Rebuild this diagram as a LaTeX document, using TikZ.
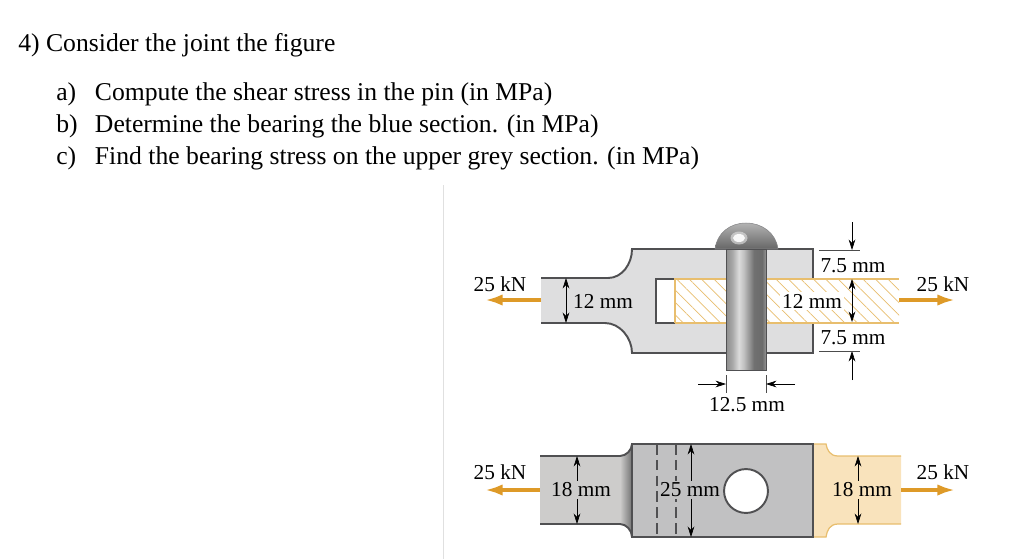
\documentclass[tikz,border=0pt]{standalone}
\usepackage{fontspec}
\setmainfont{Liberation Serif}
\usetikzlibrary{arrows.meta, patterns.meta, shapes.geometric}
\definecolor{PlateGray}{RGB}{222, 222, 223}
\definecolor{TopGray}{RGB}{193, 193, 194}
\definecolor{TabGray}{RGB}{205, 204, 203}
\definecolor{EdgeGray}{RGB}{80, 80, 82}
\definecolor{LoadOrange}{RGB}{222, 154, 40}
\definecolor{HatchOrange}{RGB}{232, 190, 110}
\definecolor{TabOrange}{RGB}{249, 227, 188}
\pgfdeclarehorizontalshading{pinshade}{100bp}{
    rgb(0bp)=(.55,.55,.55); rgb(25bp)=(.55,.55,.55); rgb(33bp)=(.66,.66,.66); rgb(41bp)=(.86,.86,.86); rgb(47bp)=(.76,.76,.76);
    rgb(60bp)=(.44,.44,.44); rgb(70bp)=(.42,.42,.42); rgb(75bp)=(.58,.58,.58); rgb(100bp)=(.58,.58,.58)}
\newcommand{\partlabel}[1]{\makebox[22pt][l]{#1}}
\tikzset{
    line/.style={font=\fontsize{14.6}{17}\selectfont, anchor=base west, inner sep=0pt},
    label/.style={font=\fontsize{12.1}{14}\selectfont, inner sep=0pt},
    plate/.style={draw=EdgeGray, line width=1.1pt},
    dim/.style={-{Stealth[length=6pt,width=3.8pt]}, line width=.35pt},
    dimboth/.style={{Stealth[length=6pt,width=3.8pt]}-{Stealth[length=6pt,width=3.8pt]}, line width=.35pt},
    tick/.style={line width=.25pt, draw=black!70},
    load/.style={-{Latex[length=10pt,width=6.5pt]}, LoadOrange, line width=2.6pt}
}
\begin{document}
\begin{tikzpicture}[x=0.02cm, y=-0.02cm]
    \useasboundingbox (0,0) rectangle (1024,559);
    % question text
    \node[line] (title) at (18,51) {4) Consider the joint the figure};
    \node[line] (parta) at (56,100) {\partlabel{a)}Compute the shear stress in the pin (in MPa)};
    \node[line] (partb) at (56,132) {\partlabel{b)}Determine the bearing the blue section. (in MPa)};
    \node[line] (partc) at (56,164) {\partlabel{c)}Find the bearing stress on the upper grey section. (in MPa)};
    \draw[line width=.3pt, black!12] (443,185) -- (443,559);
    % side view
    \fill[PlateGray] (541,278) -- (608,278) .. controls (622,278) and (632,264) .. (632,249) -- (813,249) -- (813,353) -- (632,353) .. controls (632,338) and (620,323) .. (605,323) -- (541,323) -- cycle;
    \draw[plate] (541,278) -- (608,278) .. controls (622,278) and (632,264) .. (632,249) -- (813,249) -- (813,279);
    \draw[plate] (541,323) -- (605,323) .. controls (620,323) and (632,338) .. (632,353) -- (813,353) -- (813,323);
    \fill[white] (656,279) rectangle (899,323);
    \draw[plate] (675,279) -- (656,279) -- (656,323) -- (675,323);
    \fill[pattern={Lines[angle=-45,distance=5pt,line width=.4pt]}, pattern color=HatchOrange] (675,279) rectangle (899,323);
    \draw[HatchOrange, line width=.8pt] (675,323) -- (675,279) -- (899,279);
    \draw[HatchOrange, line width=.8pt] (675,323) -- (899,323);
    \shade[top color=black!30, bottom color=black!60, draw=EdgeGray!70, line width=.3pt] (715,249) .. controls (717,233) and (730,223) .. (746,223) .. controls (762,223) and (776,233) .. (778,249) -- cycle;
    \fill[black!10, opacity=.6] (739,238) ellipse (8.5 and 6.5);
    \fill[white, opacity=.9] (739,238) ellipse (6 and 4);
    \shade[shading=pinshade, draw=EdgeGray, line width=.4pt] (726,249) rectangle (766,370);
    % side view dimensions
    \coordinate (tabtop) at (566,278);
    \coordinate (tabbot) at (566,323);
    \draw[dimboth] (tabtop) -- (tabbot);
    \node[label] (tabdim) at (603,301) {12 mm};
    \coordinate (upin) at (852,222);
    \coordinate (upend) at (852,250);
    \draw[dim] (upin) -- (upend);
    \draw[tick] (819,250) -- (860,250);
    \node[label] (updim) at (853,266) {7.5 mm};
    \coordinate (midtop) at (852,279);
    \coordinate (midbot) at (852,322);
    \draw[dimboth] (midtop) -- (midbot);
    \node[label, fill=white, inner sep=1pt] (middim) at (812,301) {12 mm};
    \node[label] (lowdim) at (853,338) {7.5 mm};
    \coordinate (lowin) at (852,380);
    \coordinate (lowend) at (852,351);
    \draw[dim] (lowin) -- (lowend);
    \draw[tick] (819,351) -- (860,351);
    \draw[tick] (726,375) -- (726,393);
    \draw[tick] (766,375) -- (766,393);
    \coordinate (pinl) at (698,384);
    \coordinate (pinle) at (726,384);
    \coordinate (pinr) at (795,384);
    \coordinate (pinre) at (766,384);
    \draw[dim] (pinl) -- (pinle);
    \draw[dim] (pinr) -- (pinre);
    \node[label] (pindim) at (747,405) {12.5 mm};
    % side view loads
    \node[label] (loadal) at (500,284) {25 kN};
    \node[label] (loadar) at (943,284) {25 kN};
    \coordinate (loadas) at (541,300);
    \coordinate (loadae) at (485,300);
    \coordinate (loadbs) at (899,300);
    \coordinate (loadbe) at (955,300);
    \draw[load] (loadas) -- (loadae);
    \draw[load] (loadbs) -- (loadbe);
    % top view
    \path[fill=TabOrange] (813,444) -- (826,444) .. controls (827,450) and (830,456) .. (838,456) -- (901,456) -- (901,524) -- (838,524) .. controls (830,524) and (827,530) .. (826,537) -- (813,537) -- cycle;
    \draw[HatchOrange, line width=.7pt] (813,444) -- (826,444) .. controls (827,450) and (830,456) .. (838,456) -- (901,456);
    \draw[HatchOrange, line width=.7pt] (813,537) -- (826,537) .. controls (827,530) and (830,524) .. (838,524) -- (901,524);
    \fill[TabGray] (540,456) -- (620,456) .. controls (626,456) and (632,450) .. (632,444) -- (632,537) .. controls (632,530) and (626,524) .. (620,524) -- (540,524) -- cycle;
    \shade[left color=TabGray, right color=black!55] (620,456) .. controls (626,456) and (632,450) .. (632,444) -- (632,537) .. controls (632,530) and (626,524) .. (620,524) -- cycle;
    \draw[plate] (540,456) -- (620,456) .. controls (626,456) and (632,450) .. (632,444);
    \draw[plate] (540,524) -- (620,524) .. controls (626,524) and (632,530) .. (632,537);
    \draw[plate, line width=1.4pt, fill=TopGray] (632,444) rectangle (813,537);
    \draw[plate, dashed, dash pattern=on 6pt off 3pt] (657,444) -- (657,537);
    \draw[plate, dashed, dash pattern=on 6pt off 3pt] (676,444) -- (676,537);
    \node[circle, draw=EdgeGray, fill=white, line width=1.1pt, minimum size=25pt, inner sep=0pt] (hole) at (746,491) {};
    % top view dimensions
    \coordinate (ltop) at (577,456);
    \coordinate (lbot) at (577,524);
    \draw[dimboth] (ltop) -- (lbot);
    \node[label, fill=TabGray, inner sep=1pt] (ldim) at (581,490) {18 mm};
    \coordinate (ptop) at (691,444);
    \coordinate (pbot) at (691,537);
    \draw[dimboth] (ptop) -- (pbot);
    \node[label, fill=TopGray, inner sep=1pt] (pdim) at (690,490) {25 mm};
    \coordinate (rtop) at (858,456);
    \coordinate (rbot) at (858,524);
    \draw[dimboth] (rtop) -- (rbot);
    \node[label, fill=TabOrange, inner sep=1pt] (rdim) at (862,490) {18 mm};
    % top view loads
    \node[label] (loadcl) at (500,472) {25 kN};
    \node[label] (loadcr) at (943,472) {25 kN};
    \coordinate (loadcs) at (540,490);
    \coordinate (loadce) at (485,490);
    \coordinate (loadds) at (901,490);
    \coordinate (loadde) at (955,490);
    \draw[load] (loadcs) -- (loadce);
    \draw[load] (loadds) -- (loadde);
\end{tikzpicture}
\end{document}
